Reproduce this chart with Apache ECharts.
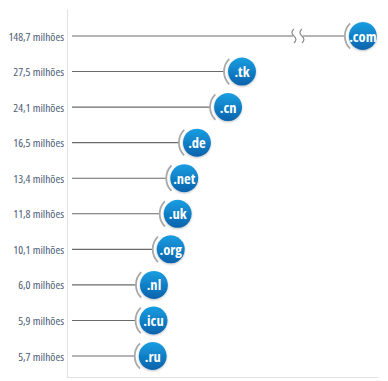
<!DOCTYPE html>
<html>
<head>
<meta charset="utf-8">
<script src="https://cdn.jsdelivr.net/npm/echarts@6/dist/echarts.min.js"></script>
<style>
html,body{margin:0;padding:0;background:#fff;}
#c{width:388px;height:381px;}
#c svg text, #c svg tspan{font-stretch:condensed !important;}
</style>
</head>
<body>
<div id="c"></div>
<script>
const domains = ['.com', '.tk', '.cn', '.de', '.net', '.uk', '.org', '.nl', '.icu', '.ru'];
const values = [148.7, 27.5, 24.1, 16.5, 13.4, 11.8, 10.1, 6.0, 5.9, 5.7];
const tickLabels = ['148,7 milhões', '27,5 milhões', '24,1 milhões', '16,5 milhões', '13,4 milhões', '11,8 milhões', '10,1 milhões', '6,0 milhões', '5,9 milhões', '5,7 milhões'];
const breakStart = 34, breakEnd = 140;

const FONT = "'Open Sans', sans-serif";
const chart = echarts.init(document.getElementById('c'), null, {renderer: 'svg'});

function renderItem(params, api) {
  const v = api.value(0), i = api.value(1);
  const c = api.coord([v, i]);
  const cx = c[0], cy = c[1];
  const x0 = params.coordSys.x;
  const children = [];
  children.push({type: 'line', shape: {x1: x0, y1: cy, x2: cx - 18, y2: cy},
    style: {stroke: '#6a6a6a', lineWidth: 1.1}});
  if (v > breakEnd) {
    const b = api.coord([(breakStart + breakEnd) / 2, i])[0];
    children.push({type: 'rect', shape: {x: b - 5, y: cy - 3, width: 10, height: 6}, style: {fill: '#fff'}});
    [b - 4, b + 4].forEach(function (x) {
      children.push({type: 'path', shape: {pathData: 'M' + x + ',' + (cy - 7) + ' Q' + (x - 4) + ',' + (cy - 3.5) + ' ' + x + ',' + cy + ' Q' + (x + 4) + ',' + (cy + 3.5) + ' ' + x + ',' + (cy + 7)},
        style: {stroke: '#8a8a8a', lineWidth: 1.2, fill: null}});
    });
  }
  children.push({type: 'arc', shape: {cx: cx, cy: cy, r: 18, startAngle: Math.PI * 0.75, endAngle: Math.PI * 1.25, clockwise: true},
    style: {stroke: '#a8a8a8', lineWidth: 1.8, fill: null}});
  children.push({type: 'circle', shape: {cx: cx, cy: cy, r: 14},
    style: {fill: new echarts.graphic.LinearGradient(0, 0, 0, 1, [{offset: 0, color: '#1a9ee2'}, {offset: 1, color: '#0762ab'}]),
      shadowBlur: 2, shadowOffsetY: 1, shadowColor: 'rgba(0,0,0,0.25)'}});
  children.push({type: 'text', style: {text: domains[i], x: cx, y: cy, align: 'center', verticalAlign: 'middle',
    fill: '#fff', font: 'bold 14.5px ' + FONT}});
  return {type: 'group', children: children};
}

chart.setOption({
  animation: false,
  grid: [
    {left: 72, right: 10, top: 36, bottom: 25, containLabel: false, outerBoundsMode: 'none'},
    {left: 67, right: 10, top: 10, bottom: 4, containLabel: false, outerBoundsMode: 'none'}
  ],
  xAxis: [
    {type: 'value', gridIndex: 0, min: -14, max: 152.4, show: false,
      breaks: [{start: breakStart, end: breakEnd, gap: 14.3}],
      breakArea: {show: false}},
    {type: 'value', gridIndex: 1, position: 'top', min: 0, max: 1,
      axisLine: {show: true, lineStyle: {color: '#e2e2e2', width: 1}},
      axisTick: {show: false}, axisLabel: {show: false}, splitLine: {show: false}}
  ],
  yAxis: [
    {type: 'category', gridIndex: 0, inverse: true, boundaryGap: false, data: tickLabels,
      axisLine: {show: false}, axisTick: {show: false},
      axisLabel: {margin: 8, color: '#4b5c74', fontSize: 11.5, fontFamily: FONT}},
    {type: 'value', gridIndex: 1, min: 0, max: 1,
      axisLine: {show: true, lineStyle: {color: '#e2e2e2', width: 1}},
      axisTick: {show: false}, axisLabel: {show: false}, splitLine: {show: false}}
  ],
  series: [{
    type: 'custom', xAxisIndex: 0, yAxisIndex: 0,
    renderItem: renderItem,
    data: values.map(function (v, i) { return [v, i]; }),
    clip: false
  }]
});
</script>
</body>
</html>
